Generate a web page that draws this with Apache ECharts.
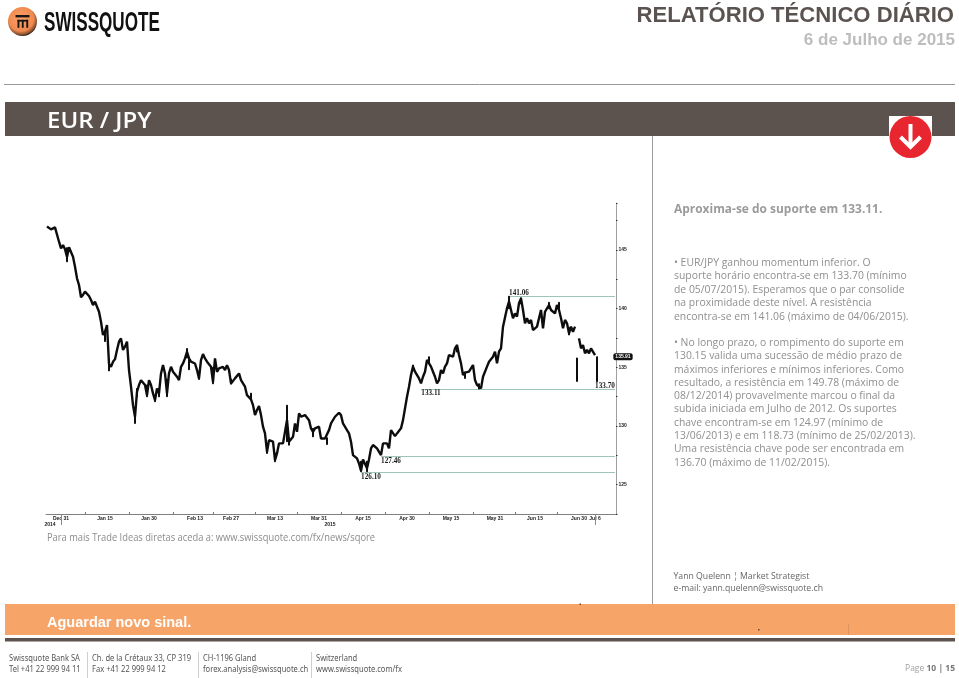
<!DOCTYPE html>
<html><head><meta charset="utf-8">
<style>html,body{margin:0;padding:0;background:#fff}#c{width:959px;height:678px}</style>
<script src="https://cdn.jsdelivr.net/npm/echarts@6/dist/echarts.min.js"></script>
</head><body><div id="c"></div>
<script>
const closes = [
147.0,147.07,146.76,146.65,146.93,146.76,145.71,145.14,145.43,145.06,144.4,145.23,145.23,144.43,143.58,142.59,
142.02,140.97,141.17,141.45,141.31,141.08,140.74,140.31,140.6,140.17,139.74,138.89,137.76,138.04,138.6,135.3,
135.05,135.47,135.7,136.48,137.19,137.47,136.48,136.76,137.19,134.77,133.35,131.78,130.79,132.92,133.49,133.91,
134.06,133.49,132.63,133.91,133.49,132.78,132.21,133.2,132.78,134.48,135.19,134.48,132.78,134.48,135.05,134.62,
134.77,134.2,133.91,135.05,135.33,135.76,136.33,135.76,135.48,135.48,135.33,134.77,134.06,135.62,136.13,135.76,
135.48,135.48,135.05,133.77,135.76,134.62,134.91,134.77,135.05,134.77,135.19,134.77,133.63,133.63,134.06,134.2,
134.48,133.91,133.77,133.35,132.63,132.49,132.27,131.78,130.93,131.36,131.7,130.93,129.94,129.37,127.81,128.8,
128.94,128.66,127.1,127.66,128.52,128.66,128.52,128.66,130.5,128.66,128.8,129.08,130.22,129.51,131.07,130.79,
130.93,130.93,131.07,130.5,129.79,129.51,129.79,129.79,129.94,128.94,128.8,128.94,128.8,129.65,130.22,130.36,
130.79,130.79,131.13,130.93,130.22,130.22,129.65,129.37,128.66,127.52,127.38,127.24,126.81,126.19,127.15,127.15,
126.39,127.15,128.09,128.38,128.52,128.09,128.0,127.52,128.52,128.66,128.52,128.09,129.65,129.51,129.14,129.37,
129.51,129.8,130.5,130.36,132.5,133.35,134.35,135.06,134.63,134.49,134.06,133.64,134.2,134.63,135.63,135.77,
135.06,134.63,134.2,133.64,133.92,134.77,134.49,135.06,135.34,136.05,136.19,135.91,136.62,136.9,136.05,135.34,
134.35,134.55,134.49,134.63,134.63,135.2,133.92,133.5,133.35,133.21,134.2,134.2,135.06,135.48,135.63,135.91,
136.34,135.34,136.34,136.62,138.47,138.33,140.03,140.6,139.89,139.18,139.6,139.32,140.46,140.88,139.89,138.75,
139.18,138.75,139.04,138.18,138.33,138.47,139.18,139.89,138.33,139.74,140.03,140.31,139.89,139.74,139.6,140.31,
139.89,139.18,138.33,139.04,138.75,137.9,138.47,138.04,138.47,null,137.47,136.62,136.9,136.2,136.48,136.2,
136.62,136.48,136.05,null
];
const wickSessions = [10,29,44,60,70,71,83,120,157,160,231,265,275,31,45,50,54,56,76,92,102,110,114,121,133,140,183,191,205,209,216,237,251,256,261];
const wickLows  = [144.0,137.2,130.22,132.5,135.8,134.8,133.6,128.66,126.1,126.1,140.0,133.8,133.78,134.7,132.49,132.49,132.07,132.49,133.97,133.57,132.27,127.66,126.95,128.37,129.08,128.43,134.9,135.4,136.3,134.06,133.15,140.4,140.0,140.0,137.76];
const wickHighs = [145.2,138.0,131.4,134.0,136.6,135.8,135.0,131.77,127.0,127.0,141.06,135.8,135.9,135.6,133.2,133.5,132.6,133.2,134.4,134.0,132.8,128.3,127.7,129.0,129.8,129.0,135.2,135.9,136.9,134.6,133.6,140.94,140.54,140.54,138.4];

const tickLabels = ['Dec 31','Jan 15','Jan 30','Feb 13','Feb 27','Mar 13','Mar 31','Apr 15','Apr 30','May 15','May 31','Jun 15','Jun 30','Jul 6'];
const tickSessions = [7,29,51,74,92,114,136,158,180,202,224,244,266,274];
const minorSessions = [19,41,63,83,104,125,147,169,191,213,234,255];
const sessionCount = 285;

const levels = [141.06,133.11,127.46,126.10];
const levelStart = [231,187,167,157];
const levelLabels = ['141.06','133.11','127.46','126.10'];
const labelAnchors = [[236,141.06,0,-3],[192,133.11,0,4],[172,127.46,0,5],[162,126.10,0,5],[279,133.11,0,-3]];
const extraLabel = '133.70';
const lastPrice = 135.91;
const lastPriceLabel = '135.91';

const para1 = ['• EUR/JPY ganhou momentum inferior. O','suporte horário encontra-se em 133.70 (mínimo','de 05/07/2015). Esperamos que o par consolide','na proximidade deste nível. A resistência','encontra-se em 141.06 (máximo de 04/06/2015).'];
const para2 = ['• No longo prazo, o rompimento do suporte em','130.15 valida uma sucessão de médio prazo de','máximos inferiores e mínimos inferiores. Como','resultado, a resistência em 149.78 (máximo de','08/12/2014) provavelmente marcou o final da','subida iniciada em Julho de 2012. Os suportes','chave encontram-se em 124.97 (mínimo de','13/06/2013) e em 118.73 (mínimo de 25/02/2013).','Uma resistência chave pode ser encontrada em','136.70 (máximo de 11/02/2015).'];
const footCols = [
 ['Swissquote Bank SA','Tel +41 22 999 94 11'],
 ['Ch. de la Crétaux 33, CP 319','Fax +41 22 999 94 12'],
 ['CH-1196 Gland','forex.analysis@swissquote.ch'],
 ['Switzerland','www.swissquote.com/fx']
];

const categories = [];
for (let i = 0; i < sessionCount; i++) {
  const k = tickSessions.indexOf(i);
  categories.push(k >= 0 ? tickLabels[k] : 'd' + i);
}
const wickData = categories.map((_, i) => {
  const k = wickSessions.indexOf(i);
  return k >= 0 ? [wickLows[k], wickHighs[k], wickLows[k], wickHighs[k]] : ['-','-','-','-'];
});

const SANS = 'Liberation Sans', BODY = 'Open Sans', FOOT = 'Noto Sans';
function T(text, x, y, size, fill, o) {
  o = o || {};
  return { type:'text', x, y, scaleX:o.sx||1, z:o.z||10, silent:true,
    style:{ text, x:0, y:0, fill, fontSize:size, fontFamily:o.ff||BODY, fontWeight:o.w||'normal',
            align:o.a||'left', verticalAlign:'middle', rich:o.rich } };
}
function R(x,y,w,h,fill,z){ return {type:'rect',shape:{x,y,width:w,height:h},style:{fill},z:z||1,silent:true}; }
function L(x1,y1,x2,y2,stroke,lw,z){ return {type:'line',shape:{x1,y1,x2,y2},style:{stroke,lineWidth:lw||1},z:z||1,silent:true}; }

const g = [];
// logo
g.push({type:'circle',shape:{cx:22.5,cy:21.5,r:14.5},z:2,silent:true,style:{fill:new echarts.graphic.RadialGradient(0.45,0.4,0.6,[{offset:0,color:'#f9a26c'},{offset:0.72,color:'#f08a4e'},{offset:0.92,color:'#8a4f2c'},{offset:1,color:'#2a211c'}])}});
g.push(R(15.5,15,14,2.4,'#1a1512',3),R(17.5,19.8,10.5,1.8,'#1a1512',3),R(17.5,19.8,1.9,8,'#1a1512',3),R(21.8,19.8,1.9,8,'#1a1512',3),R(26.3,19.8,1.9,8,'#1a1512',3));
g.push(T('SWISSQUOTE',44,23,28,'#111',{ff:SANS,w:'bold',sx:0.61}));
g.push(T('RELATÓRIO TÉCNICO DIÁRIO',954,16,22.1,'#5a5350',{ff:SANS,w:'bold',a:'right'}));
g.push(T('6 de Julho de 2015',955,40,17,'#bdbdbd',{ff:SANS,w:'bold',a:'right'}));
g.push(L(4,84.5,955,84.5,'#9a9a9a',1));
// header band
g.push(R(5,102,950,34,'#5c534e',1));
g.push(T('EUR / JPY',47,121.5,22,'#ffffff',{w:'600',sx:1.09}));
g.push(R(889,116,43,21,'#ffffff',2));
g.push({type:'circle',shape:{cx:910.5,cy:137,r:21},style:{fill:'#e8262f'},z:3,silent:true});
g.push({type:'polyline',shape:{points:[[910.5,124],[910.5,147]]},style:{stroke:'#fff',lineWidth:4,fill:null},z:4,silent:true});
g.push({type:'polyline',shape:{points:[[900.5,137],[910.5,147],[920.5,137]]},style:{stroke:'#fff',lineWidth:4,fill:null},z:4,silent:true});
g.push(L(652.5,136,652.5,604,'#9a9a9a',1));
// commentary
g.push(T('Aproxima-se do suporte em 133.11.',674,209.5,12.5,'#9b9b9b',{w:'bold',sx:0.955}));
para1.forEach((s,i)=>g.push(T(s,674,263+13.5*i,10.4,'#8f8f8f')));
para2.forEach((s,i)=>g.push(T(s,674,343+13.3*i,10.4,'#8f8f8f')));
g.push(T('Para mais Trade Ideas diretas aceda a: www.swissquote.com/fx/news/sqore',47,538,10.4,'#8c8c8c',{sx:0.896}));
g.push(T('Yann Quelenn ¦ Market Strategist',673.5,576.5,9.6,'#666666',{sx:0.905}));
g.push(T('e-mail: yann.quelenn@swissquote.ch',673.5,588,9.6,'#666666',{sx:0.905}));
// bottom band
g.push(R(5,604,950,31,'#f7a469',1));
g.push(T('Aguardar novo sinal.',47,622.5,14.5,'#ffffff',{ff:SANS,w:'bold'}));
g.push(R(5,638,950,3.5,'#5c534e',1));
g.push(L(848.5,624,848.5,635,'#e09560',1,2));
g.push(R(579.5,603.5,1.5,1.5,'#6a4a36',2),R(758,629,1.5,1.5,'#6a4a36',2));
[87.5,198.5,311.5].forEach(x=>g.push(L(x,652,x,678,'#cfcfcf',1)));
[9,92,203,316].forEach((x,i)=>{
  g.push(T(footCols[i][0],x,658,9,'#555555',{ff:FOOT,sx:0.84}));
  g.push(T(footCols[i][1],x,669,9,'#555555',{ff:FOOT,sx:0.84}));
});
g.push(T('{a|Page }{b|10 | 15}',955,669,8.5,'#999',{a:'right',rich:{a:{fill:'#a0a0a0',fontSize:8.5,fontFamily:BODY},b:{fill:'#777',fontSize:8.5,fontWeight:'bold',fontFamily:BODY}}}));
// x-axis year dividers
g.push(L(61.5,515,61.5,525,'#888',1,2),L(595.5,515,595.5,525,'#888',1,2));

const levelLines = levels.map((v,i)=>[{coord:[levelStart[i],v]},{coord:[sessionCount-1,v]}]);
const allLabels = levelLabels.concat([extraLabel]);
const markPts = labelAnchors.map((a,i)=>({
  coord:[a[0],a[1]], symbol:'circle', symbolSize:0,
  label:{show:true,formatter:allLabels[i],position:'inside',offset:[a[2],a[3]],fontSize:7.2,fontWeight:'bold',fontFamily:'Liberation Serif',color:'#1a1a1a'}
}));
markPts.push({coord:[sessionCount-1,lastPrice],symbol:'circle',symbolSize:0,
  label:{show:true,formatter:lastPriceLabel,position:'inside',offset:[8,0],fontSize:5,fontWeight:'bold',fontFamily:SANS,color:'#fff',backgroundColor:'#111',borderRadius:2,padding:[1,2]}});

const chart = echarts.init(document.getElementById('c'),null,{renderer:'canvas'});
chart.setOption({
  animation:false,
  backgroundColor:'#ffffff',
  grid:{left:46,top:203.1,width:570,height:310.9,containLabel:false},
  xAxis:{type:'category',data:categories,boundaryGap:true,
    axisLine:{show:true,lineStyle:{color:'#808080',width:1}},
    axisTick:{show:true,alignWithLabel:true,length:-2,interval:(i)=>minorSessions.includes(i),lineStyle:{color:'#777'}},
    axisLabel:{interval:(i)=>tickSessions.includes(i),margin:2,
      formatter:(v)=>{
        if(v==='Dec 31')return '{m|Dec 31}\n{y|2014}';
        if(v==='Mar 31')return '{m|Mar 31}\n{z|2015}';
        return '{m|'+v+'}';
      },
      rich:{m:{fontSize:5,fontWeight:'bold',fontFamily:SANS,color:'#222',lineHeight:6},
            y:{fontSize:5,fontWeight:'bold',fontFamily:SANS,color:'#222',lineHeight:6,padding:[0,22,0,0]},
            z:{fontSize:5,fontWeight:'bold',fontFamily:SANS,color:'#222',lineHeight:6,padding:[0,0,0,22]}}
    },splitLine:{show:false}},
  yAxis:{type:'value',position:'right',min:122.5,max:149,interval:2.5,
    axisLine:{show:true,lineStyle:{color:'#a0a0a0',width:1}},
    axisTick:{show:true,length:1.5,lineStyle:{color:'#333'}},
    axisLabel:{margin:2.5,fontSize:5,fontWeight:'bold',fontFamily:SANS,color:'#222',
      formatter:(v)=>(v%5===0?String(v):'')},
    splitLine:{show:false}},
  graphic:g,
  series:[
    {type:'line',name:'EUR/JPY',data:closes,showSymbol:false,connectNulls:false,
     lineStyle:{color:'#0d0d0d',width:2.4,join:'bevel'},z:5,silent:true,
     markLine:{silent:true,symbol:'none',animation:false,label:{show:false},
       lineStyle:{color:'#9fc4ba',width:1.2,type:'solid'},data:levelLines},
     markPoint:{silent:true,animation:false,data:markPts}},
    {type:'candlestick',name:'range',data:wickData,barWidth:1.6,silent:true,z:6,
     itemStyle:{color:'#0d0d0d',color0:'#0d0d0d',borderColor:'#0d0d0d',borderColor0:'#0d0d0d',borderWidth:1}}
  ]
});
</script></body></html>
